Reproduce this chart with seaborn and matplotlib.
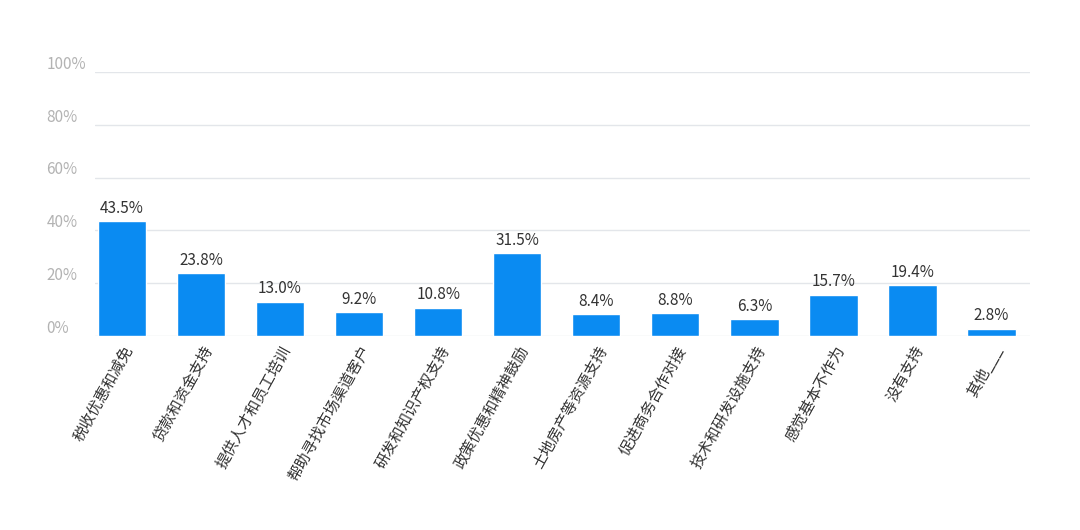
import matplotlib
matplotlib.use('Agg')
import matplotlib.pyplot as plt
import matplotlib.transforms as mtransforms
import seaborn as sns

# Data
categories = ['税收优惠和减免', '贷款和资金支持', '提供人才和员工培训', '帮助寻找市场渠道客户',
              '研发和知识产权支持', '政策优惠和精神鼓励', '土地房产等资源支持', '促进商务合作对接',
              '技术和研发设施支持', '感觉基本不作为', '没有支持', '其他___']
values = [43.5, 23.8, 13.0, 9.2, 10.8, 31.5, 8.4, 8.8, 6.3, 15.7, 19.4, 2.8]
y_ticks = [0, 20, 40, 60, 80, 100]

sns.set_style('white')
plt.rcParams['font.family'] = ['Noto Sans CJK SC', 'DejaVu Sans']

fig = plt.figure(figsize=(10.8, 5.3), dpi=100)
ax = fig.add_axes([0.088, 0.366, 0.866, 0.498])

sns.barplot(x=categories, y=values, color='#0A8BF2', saturation=1, width=0.61, ax=ax)

ax.set_xlim(-0.34, 11.49)
ax.set_ylim(0, 100)

# gridlines
for t in y_ticks:
    ax.axhline(t, color='#e3e6ea', lw=1, zorder=0)

# y labels sitting on the gridlines, at far left
trans = mtransforms.blended_transform_factory(fig.transFigure, ax.transData)
for t in y_ticks:
    ax.text(0.043, t - 0.3, f'{t}%', transform=trans, ha='left', va='bottom',
            fontsize=11, color='#b3b3b3')
ax.set_yticks([])

# value labels
for i, v in enumerate(values):
    ax.text(i, v + 1.6, f'{v:.1f}%', ha='center', va='bottom', fontsize=11, color='#333333')

# category labels
ax.set_xticks(range(len(categories)))
ax.set_xticklabels(categories, rotation=61, ha='right', rotation_mode='anchor',
                   fontsize=11, color='#333333')
ax.tick_params(axis='x', length=0, pad=5)

for s in ax.spines.values():
    s.set_visible(False)
ax.set_xlabel('')
ax.set_ylabel('')

fig.savefig('out.png', dpi=100, facecolor='white')
